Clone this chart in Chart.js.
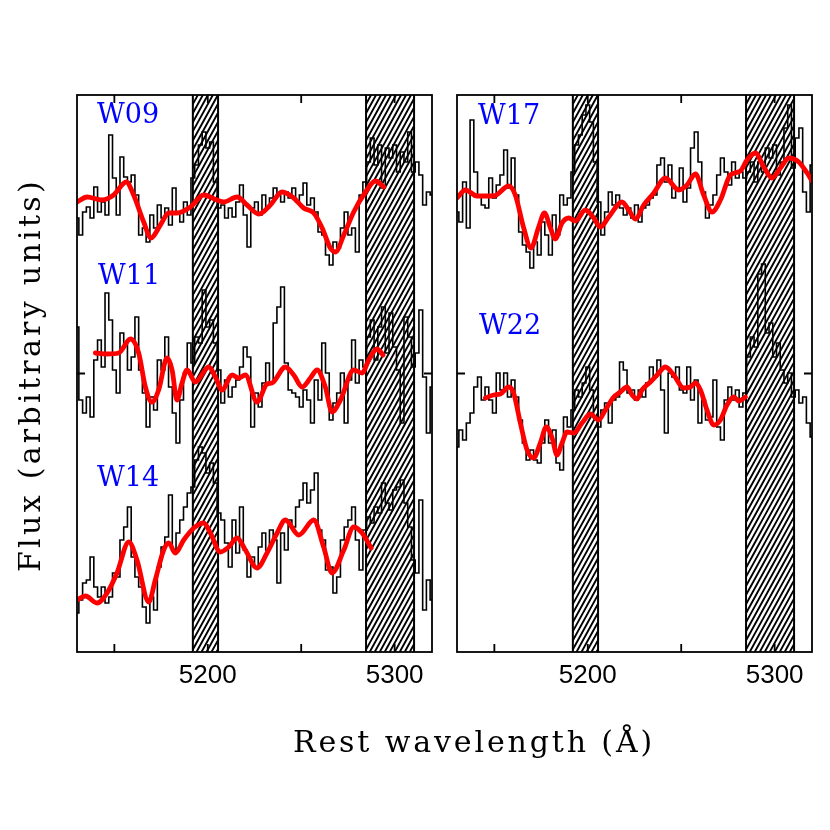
<!DOCTYPE html>
<html><head><meta charset="utf-8">
<script src="https://cdn.jsdelivr.net/npm/chart.js@4/dist/chart.umd.min.js"></script>
<style>
html,body{margin:0;padding:0;background:#fff;}
#wrap{position:relative;width:830px;height:830px;overflow:hidden;}
canvas{position:absolute;left:0;top:0;}
.t{position:absolute;font-family:"DejaVu Serif",serif;font-size:30px;line-height:30px;color:#000;white-space:nowrap;}
</style></head><body>
<div id="wrap">
<canvas id="c1" width="830" height="830"></canvas>
<canvas id="c2" width="830" height="830"></canvas>
<div class="t" id="xt">Rest wavelength (Å)</div>
<div class="t" id="yt">Flux (arbitrary units)</div>
</div>
<script>
// ---------------- data ----------------
const wave = [5130,5132,5134,5136,5138,5140,5142,5144,5146,5148,5150,5152,5154,5156,5158,5160,5162,5164,5166,5168,5170,5172,5174,5176,5178,5180,5182,5184,5186,5188,5190,5192,5194,5196,5198,5200,5202,5204,5206,5208,5210,5212,5214,5216,5218,5220,5222,5224,5226,5228,5230,5232,5234,5236,5238,5240,5242,5244,5246,5248,5250,5252,5254,5256,5258,5260,5262,5264,5266,5268,5270,5272,5274,5276,5278,5280,5282,5284,5286,5288,5290,5292,5294,5296,5298,5300,5302,5304,5306,5308,5310,5312,5314,5316,5318,5320];

const fluxW09 = [434,417,440,445,434,465,440,450,437,517,474,437,495,475,470,477,457,417,424,410,437,424,447,434,444,427,464,440,430,450,437,474,487,507,520,504,510,470,444,447,434,444,435,450,467,437,405,444,450,437,457,444,454,464,457,450,460,454,464,450,457,469,447,454,440,420,417,397,387,410,404,424,440,417,424,400,457,470,490,514,487,507,464,504,494,507,480,500,490,520,480,490,477,447,460,457];
const fluxW11 = [325,252,239,255,235,292,312,285,359,332,282,259,319,309,282,295,335,282,259,225,255,242,292,282,315,265,239,209,252,279,309,289,315,309,362,325,332,309,282,249,272,255,265,272,285,305,295,225,259,245,269,289,269,329,345,365,289,262,259,255,245,262,252,229,272,252,309,279,232,249,259,279,229,272,312,269,292,285,315,332,292,325,345,299,339,305,282,229,335,315,285,299,342,275,219,265];
const fluxW14 = [39,52,69,72,95,65,55,65,49,55,79,75,112,125,145,95,75,65,45,29,55,42,85,105,115,157,102,119,132,145,159,165,192,205,199,179,189,169,139,132,109,85,132,99,145,102,75,95,85,105,119,102,122,112,69,119,102,132,125,145,152,169,149,162,179,122,112,82,85,59,75,112,125,132,145,112,82,122,135,129,145,139,169,149,142,162,165,172,149,125,92,79,152,42,72,52];
const fluxW17 = [440,430,470,424,532,480,457,447,444,474,454,467,477,502,464,494,457,420,407,400,384,410,397,430,417,397,437,417,457,447,454,480,507,517,537,547,530,490,450,417,440,460,447,457,444,437,444,434,447,430,444,447,454,457,487,494,470,487,454,464,484,450,464,504,520,490,460,434,447,457,477,494,480,467,490,474,480,474,480,490,470,490,480,504,494,507,477,490,524,547,484,514,524,460,440,487];
const fluxW22 = [205,222,212,229,239,265,275,252,265,252,239,279,262,279,255,272,255,232,209,192,202,192,189,209,232,209,222,189,182,235,225,242,262,255,269,285,262,235,225,242,249,229,252,255,290,282,259,262,252,262,255,269,285,275,292,262,219,279,275,285,262,259,285,252,272,229,252,232,235,272,225,212,252,265,252,262,245,259,295,315,305,378,388,319,329,295,309,282,269,279,255,262,249,255,229,215];

const fitW09Wave = [5130,5135.4,5143.4,5149.6,5156.4,5160.3,5165.7,5169.6,5174.6,5179.1,5183.5,5190.7,5197.8,5204.9,5208.5,5215.7,5221,5227.3,5233.5,5239.7,5246,5251.3,5256.7,5261.2,5265.6,5268.3,5272.8,5278.1,5284.4,5289.7,5294.2];
const fitW09Flux = [450,455,452,457,470,457,430,414,427,439,439,445,457,452,450,455,447,438,447,460,454,444,439,424,404,400,417,440,460,471,465];

const fitW11Wave = [5139.8,5146.1,5152.3,5158.6,5163,5166.6,5170.1,5173.7,5178.2,5180.9,5183.5,5186.2,5188.9,5193.3,5200.5,5204.1,5207.6,5213,5216.5,5220.1,5226.4,5231.7,5234.4,5241.5,5246,5250.5,5254.9,5258.5,5262.9,5266.5,5271,5278.1,5282.6,5286.1,5290.6,5293.8];
const fitW11Flux = [299,298,299,313,299,265,250,262,294,282,252,269,282,270,285,275,262,277,274,277,250,268,269,285,277,265,274,282,265,240,252,282,279,292,303,297];

const fitW14Wave = [5130,5134.5,5140.7,5146.1,5151.4,5157.7,5162.1,5168.4,5171.9,5176.4,5179.1,5182.6,5187.1,5192.5,5197.8,5201.4,5206.7,5211.2,5215.7,5220.1,5226.4,5231.7,5237.1,5241.5,5248.7,5256.7,5262,5266.5,5272.8,5278.1,5282.6,5287.4];
const fitW14Flux = [52,56,49,59,79,110,92,50,72,102,109,99,112,124,129,119,100,105,114,102,84,99,119,132,117,132,105,79,102,125,119,104];

const fitW17Wave = [5130,5134.5,5140.7,5149.6,5157.7,5161.2,5165.7,5169.6,5173.7,5176.8,5180,5182.6,5186.2,5189.8,5193.3,5198.7,5203.2,5206.7,5211.2,5218.3,5221.9,5225.5,5229.9,5235.3,5241.5,5248.7,5253.1,5257.6,5262,5266.5,5271,5276.3,5281.7,5285.2,5289.7,5294.2,5298.6,5303.1,5307.6,5312.9,5317.4,5320];
const fitW17Flux = [454,462,456,456,466,457,424,404,425,439,424,413,429,434,431,442,434,425,435,450,442,433,447,459,474,462,467,478,457,440,452,477,481,492,499,485,474,484,494,490,479,471];

const fitW22Wave = [5145.2,5149.6,5153.2,5157.7,5160.3,5163.9,5167.5,5171,5174.6,5177.8,5180.9,5183.5,5186.2,5188.9,5192.5,5196.9,5201.4,5205.8,5209.4,5213.9,5217.4,5221,5223.7,5226.4,5229,5233.5,5237.1,5241.5,5246,5251.3,5254.9,5257.6,5260.3,5263.8,5267.4,5271,5274.5,5278.1,5280.8,5284.4];
const fitW22Flux = [254,257,258,265,259,229,202,194,209,225,214,197,209,220,219,229,238,232,242,255,260,265,257,253,262,270,277,285,277,264,265,269,262,242,227,232,247,255,251,255];

const maskedBands = [[5192,5205.5],[5284.7,5310.4]];
const xTickValues = [5150,5200,5250,5300];
const xTickLabels = ['','5200','','5300'];
const yTickValues = [278.5];
const leftNames = ['W09','W11','W14'];
const rightNames = ['W17','W22'];

// ---------------- drawing ----------------
const toXY = (w,f) => w.map((x,i)=>({x:x, y:f[i]}));
const black = (f) => ({data:toXY(wave,f), borderColor:'#000', borderWidth:1.6, stepped:'middle', pointRadius:0, order:2, fill:false});
const red = (w,f) => ({data:toXY(w,f), borderColor:'#ff0000', borderWidth:4.8, cubicInterpolationMode:'monotone', pointRadius:0, order:1, fill:false, borderCapStyle:'round', borderJoinStyle:'round'});

const decor = {
  id:'decor',
  beforeDatasetsDraw(chart){
    const ctx=chart.ctx, a=chart.chartArea, x=chart.scales.x;
    ctx.save();
    maskedBands.forEach(([w0,w1])=>{
      const x0=x.getPixelForValue(w0), x1=x.getPixelForValue(w1);
      const H=a.bottom-a.top, k=0.55, sp=5;
      ctx.save();
      ctx.beginPath(); ctx.rect(x0,a.top,x1-x0,H); ctx.clip();
      ctx.strokeStyle='#000'; ctx.lineWidth=1.9;
      ctx.beginPath();
      for(let xx=x0-H*k-sp; xx<x1+sp; xx+=sp){ ctx.moveTo(xx,a.bottom); ctx.lineTo(xx+H*k,a.top); }
      ctx.stroke();
      ctx.restore();
      ctx.strokeStyle='#000'; ctx.lineWidth=2;
      ctx.beginPath();
      ctx.moveTo(x0,a.top); ctx.lineTo(x0,a.bottom);
      ctx.moveTo(x1,a.top); ctx.lineTo(x1,a.bottom);
      ctx.stroke();
    });
    ctx.restore();
  },
  afterDatasetsDraw(chart){
    const ctx=chart.ctx, a=chart.chartArea, x=chart.scales.x, y=chart.scales.y;
    ctx.save();
    ctx.strokeStyle='#000'; ctx.lineWidth=1.8;
    ctx.strokeRect(a.left,a.top,a.right-a.left,a.bottom-a.top);
    const L=8;
    ctx.beginPath();
    xTickValues.forEach(v=>{const p=x.getPixelForValue(v); ctx.moveTo(p,a.bottom); ctx.lineTo(p,a.bottom-L); ctx.moveTo(p,a.top); ctx.lineTo(p,a.top+L);});
    yTickValues.forEach(v=>{const p=y.getPixelForValue(v); ctx.moveTo(a.left,p); ctx.lineTo(a.left+L,p); ctx.moveTo(a.right,p); ctx.lineTo(a.right-L,p);});
    ctx.stroke();
    ctx.restore();
  },
  afterDraw(chart, args, opts){
    const ctx=chart.ctx, a=chart.chartArea;
    ctx.save();
    ctx.font='27px "DejaVu Serif"';
    ctx.fillStyle='#0000ff';
    ctx.textBaseline='alphabetic';
    (opts.labels||[]).forEach(l=>{ ctx.fillText(l.text, a.left+l.dx, l.y); });
    ctx.restore();
  }
};

function makeChart(id, pad, datasets, labels){
  return new Chart(document.getElementById(id), {
    type:'line',
    data:{datasets:datasets},
    options:{
      responsive:false, animation:false, devicePixelRatio:1,
      layout:{padding:pad},
      plugins:{legend:{display:false}, tooltip:{enabled:false}, decor:{labels:labels}},
      elements:{point:{radius:0}},
      scales:{
        x:{type:'linear', min:5130, max:5320, position:'bottom',
           afterBuildTicks:(s)=>{ s.ticks = xTickValues.map(v=>({value:v})); },
           afterFit:(s)=>{ s.height = 40; },
           ticks:{callback:(v)=>{ const i=xTickValues.indexOf(v); return i>=0?xTickLabels[i]:''; },
                  font:{family:'"Liberation Sans", Arial, sans-serif', size:26}, color:'#000', padding:8, maxRotation:0, minRotation:0, autoSkip:false},
           grid:{display:false, drawTicks:false}, border:{display:false}},
        y:{type:'linear', min:0, max:557, display:false}
      }
    },
    plugins:[decor]
  });
}

makeChart('c1', {left:77, right:398, top:95, bottom:138},
  [red(fitW09Wave,fitW09Flux), red(fitW11Wave,fitW11Flux), red(fitW14Wave,fitW14Flux),
   black(fluxW09), black(fluxW11), black(fluxW14)],
  [{text:leftNames[0], dx:20, y:123},{text:leftNames[1], dx:21, y:284},{text:leftNames[2], dx:20, y:486}]);

makeChart('c2', {left:457, right:18, top:95, bottom:138},
  [red(fitW17Wave,fitW17Flux), red(fitW22Wave,fitW22Flux),
   black(fluxW17), black(fluxW22)],
  [{text:rightNames[0], dx:21, y:124},{text:rightNames[1], dx:22, y:334}]);

// axis titles
function fitText(el, target){
  el.style.letterSpacing='0px';
  const w=el.getBoundingClientRect().width;
  const n=el.textContent.length;
  el.style.letterSpacing=((target-w)/n)+'px';
  return el.getBoundingClientRect().width;
}
const xt=document.getElementById('xt');
const wx=fitText(xt,362);
xt.style.left=(474-wx/2)+'px';
xt.style.top='726.6px';
const yt=document.getElementById('yt');
const wy=fitText(yt,394);
yt.style.left=(29.6-wy/2)+'px';
yt.style.top=(375-15)+'px';
yt.style.transformOrigin='50% 50%';
yt.style.transform='rotate(-90deg)';
</script>
</body></html>
